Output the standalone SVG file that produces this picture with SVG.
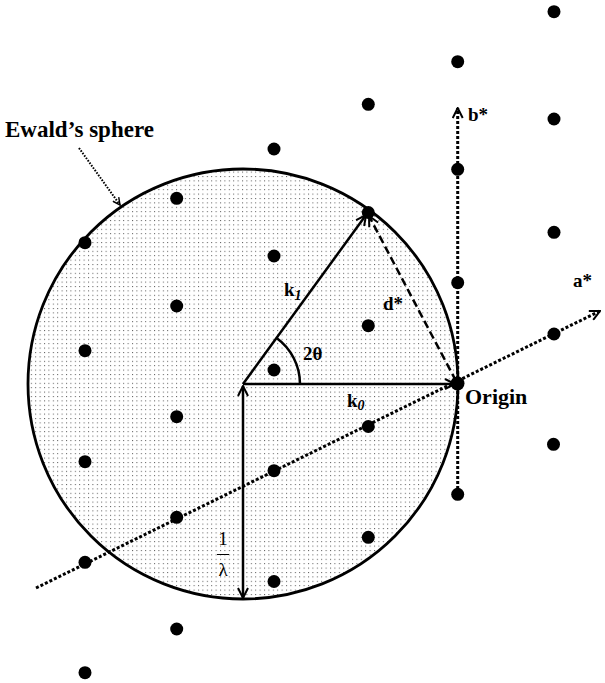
<svg xmlns="http://www.w3.org/2000/svg" width="605" height="683" viewBox="0 0 605 683">
<style>
.pt{fill:#000}
.lbl{font-family:"Liberation Serif","Times New Roman",serif;font-weight:bold;fill:#000}
.big{font-size:22px}
.mid{font-size:19px}
.sub{font-size:14px;font-style:italic}
.solid{stroke:#000;stroke-width:2.5;fill:none}
.dash{stroke:#000;stroke-width:2.5;fill:none;stroke-dasharray:8 4}
.dot{stroke:#000;stroke-width:3;fill:none;stroke-dasharray:3 2}
.thindot{stroke:#000;stroke-width:2;fill:none;stroke-dasharray:1.6 1.4}
</style>
<defs>
<pattern id="stip" width="4.4" height="4.4" patternUnits="userSpaceOnUse">
<rect width="4.4" height="4.4" fill="#fff"/>
<rect x="0" y="0" width="1" height="1" fill="#555"/>
</pattern>
<marker id="ah" viewBox="0 0 12 12" refX="11" refY="6" markerUnits="userSpaceOnUse" markerWidth="12" markerHeight="12" orient="auto-start-reverse">
<path d="M1,1 L11,6 L1,11" fill="none" stroke="#000" stroke-width="2"/>
</marker>
<marker id="ahs" viewBox="0 0 10 10" refX="9" refY="5" markerUnits="userSpaceOnUse" markerWidth="9" markerHeight="9" orient="auto">
<path d="M1,1 L9,5 L1,9" fill="none" stroke="#000" stroke-width="1.6"/>
</marker>
</defs>
<rect width="605" height="683" fill="#fff"/>

<g id="sphere">
<circle cx="243" cy="384" r="215" fill="url(#stip)" stroke="#000" stroke-width="2.8"/>
</g>

<g id="connectors">
<line class="dot" x1="36" y1="588" x2="600" y2="311" marker-end="url(#ah)"/>
<line class="dot" x1="457.7" y1="494" x2="457.7" y2="108" marker-end="url(#ah)"/>
<line class="solid" x1="243" y1="384" x2="455" y2="384" marker-end="url(#ah)"/>
<line class="solid" x1="243" y1="384" x2="366" y2="215" marker-end="url(#ah)"/>
<line class="dash" x1="456" y1="381" x2="369" y2="216" marker-end="url(#ah)"/>
<line class="solid" x1="243" y1="386" x2="243" y2="598" marker-start="url(#ah)" marker-end="url(#ah)"/>
<path class="solid" d="M300,384 A57,57 0 0 0 276.6,338" stroke-width="1.6"/>
<line class="thindot" x1="79" y1="148" x2="120" y2="205" marker-end="url(#ahs)"/>
</g>

<g id="lattice">
<g id="p1"><circle class="pt" cx="85" cy="242.7" r="6.5"/></g>
<g id="p2"><circle class="pt" cx="85" cy="350.7" r="6.5"/></g>
<g id="p3"><circle class="pt" cx="85" cy="461.7" r="6.5"/></g>
<g id="p4"><circle class="pt" cx="85" cy="562.3" r="6.5"/></g>
<g id="p5"><circle class="pt" cx="85" cy="672.7" r="6.5"/></g>
<g id="p6"><circle class="pt" cx="176.7" cy="198.3" r="6.5"/></g>
<g id="p7"><circle class="pt" cx="176.7" cy="306" r="6.5"/></g>
<g id="p8"><circle class="pt" cx="176.7" cy="416.7" r="6.5"/></g>
<g id="p9"><circle class="pt" cx="176.7" cy="517.3" r="6.5"/></g>
<g id="p10"><circle class="pt" cx="176.7" cy="629" r="6.5"/></g>
<g id="p11"><circle class="pt" cx="274" cy="149" r="6.5"/></g>
<g id="p12"><circle class="pt" cx="274" cy="256" r="6.5"/></g>
<g id="p13"><circle class="pt" cx="274" cy="370" r="6.5"/></g>
<g id="p14"><circle class="pt" cx="274" cy="470.7" r="6.5"/></g>
<g id="p15"><circle class="pt" cx="274" cy="581.5" r="6.5"/></g>
<g id="p16"><circle class="pt" cx="368.3" cy="104.3" r="6.5"/></g>
<g id="p17"><circle class="pt" cx="368.3" cy="212.5" r="6.5"/></g>
<g id="p18"><circle class="pt" cx="368.3" cy="325.7" r="6.5"/></g>
<g id="p19"><circle class="pt" cx="368.3" cy="426.5" r="6.5"/></g>
<g id="p20"><circle class="pt" cx="368.3" cy="537.3" r="6.5"/></g>
<g id="p21"><circle class="pt" cx="457.7" cy="61.7" r="6.5"/></g>
<g id="p22"><circle class="pt" cx="457.7" cy="169.3" r="6.5"/></g>
<g id="p23"><circle class="pt" cx="457.7" cy="282.7" r="6.5"/></g>
<g id="origin"><circle class="pt" cx="457.5" cy="383.5" r="7"/></g>
<g id="p24"><circle class="pt" cx="457.7" cy="494.3" r="6.5"/></g>
<g id="p25"><circle class="pt" cx="554" cy="11.7" r="6.5"/></g>
<g id="p26"><circle class="pt" cx="554" cy="119" r="6.5"/></g>
<g id="p27"><circle class="pt" cx="554" cy="232.3" r="6.5"/></g>
<g id="p28"><circle class="pt" cx="554" cy="334" r="6.5"/></g>
<g id="p29"><circle class="pt" cx="553.5" cy="444.3" r="6.5"/></g>
</g>

<g id="labels">
<text class="lbl" font-size="23" x="5" y="137">Ewald’s sphere</text>
<text class="lbl big" x="465" y="404">Origin</text>
<text class="lbl mid" x="468" y="121">b*</text>
<text class="lbl mid" x="573" y="287">a*</text>
<text class="lbl mid" x="383" y="310">d*</text>
<text class="lbl mid" x="303" y="360">2θ</text>
<text class="lbl mid" x="284" y="296">k<tspan class="sub" dy="4">1</tspan></text>
<text class="lbl mid" x="347" y="407">k<tspan class="sub" dy="3">0</tspan></text>
<g id="lambda">
<text x="223" y="545" text-anchor="middle" font-family="Liberation Serif, serif" font-size="19">1</text>
<line x1="217" y1="554.5" x2="229" y2="554.5" stroke="#000" stroke-width="1"/>
<text x="223" y="576" text-anchor="middle" font-family="Liberation Serif, serif" font-size="19">λ</text>
</g>
</g>
</svg>
